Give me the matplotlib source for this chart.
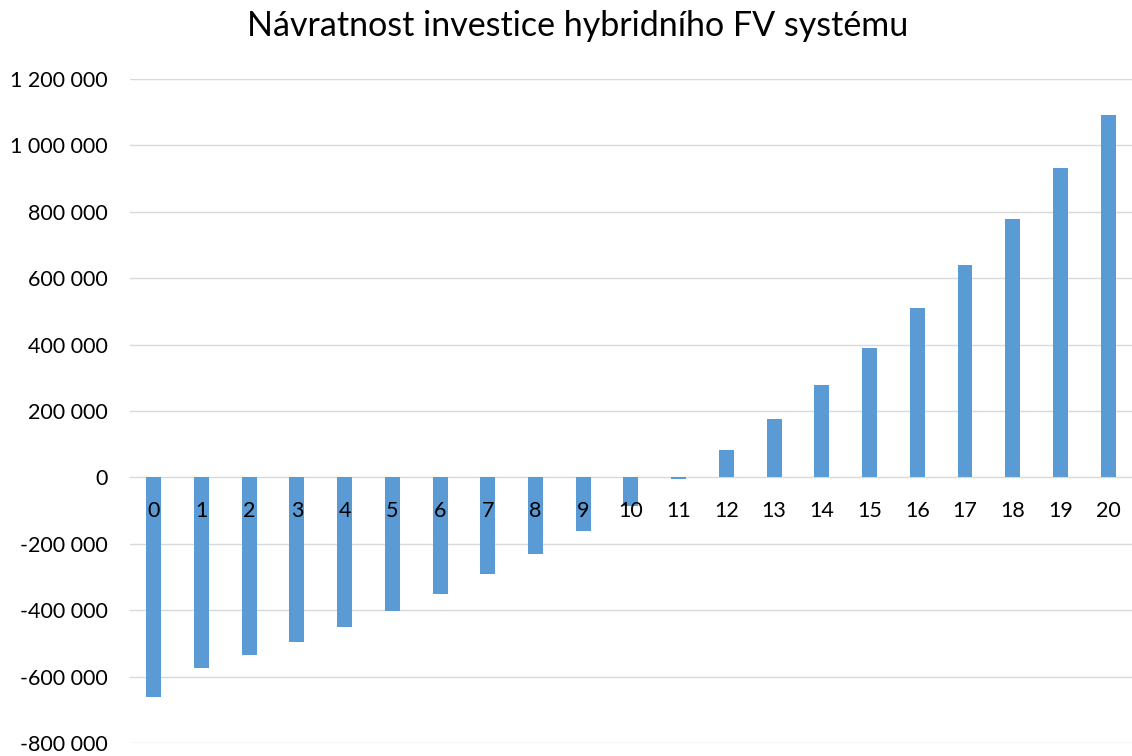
import matplotlib
matplotlib.use('Agg')
from matplotlib import pyplot as plt
from matplotlib.ticker import FuncFormatter

# roky a kumulovany cash flow (Kc)
years = list(range(21))
cash_flow = [
    -660000, -573000, -536000, -496000, -452000, -403000, -350000,
    -292000, -230000, -161000, -85000, -6000, 82000, 176000, 279000,
    390000, 510000, 640000, 779000, 931000, 1092000,
]
title = 'Návratnost investice hybridního FV systému'

plt.rcParams['font.family'] = ['Lato', 'DejaVu Sans']

fig = plt.figure(figsize=(11.32, 7.56), dpi=100)
ax = fig.add_axes([0.1148, 0.0172, 0.8852, 0.8783])

ax.bar(years, cash_flow, width=0.314, color='#5B9BD5', zorder=2)

ax.set_xlim(-0.5, 20.5)
ax.set_ylim(-800000, 1200000)
ax.set_yticks(range(-800000, 1200001, 200000))
ax.yaxis.set_major_formatter(
    FuncFormatter(lambda v, p: f'{int(v):,}'.replace(',', ' '))
)
ax.set_xticks(years)
ax.set_xticklabels([str(y) for y in years])

ax.grid(axis='y', color='#D9D9D9', linewidth=1.0)
for s in ax.spines.values():
    s.set_visible(False)
ax.spines['bottom'].set_position(('data', 0))
# popisky let nad sloupci, mrizka pod nimi
ax.xaxis.set_zorder(4)
ax.yaxis.set_zorder(0.5)

ax.tick_params(axis='y', length=0, pad=16, labelsize=15.5, labelcolor='#000000')
ax.tick_params(axis='x', length=0, pad=17, labelsize=15.5, labelcolor='#000000')

fig.text(0.51, 0.966, title, ha='center', va='center', fontsize=24.5)

fig.savefig('out.png', dpi=100)
